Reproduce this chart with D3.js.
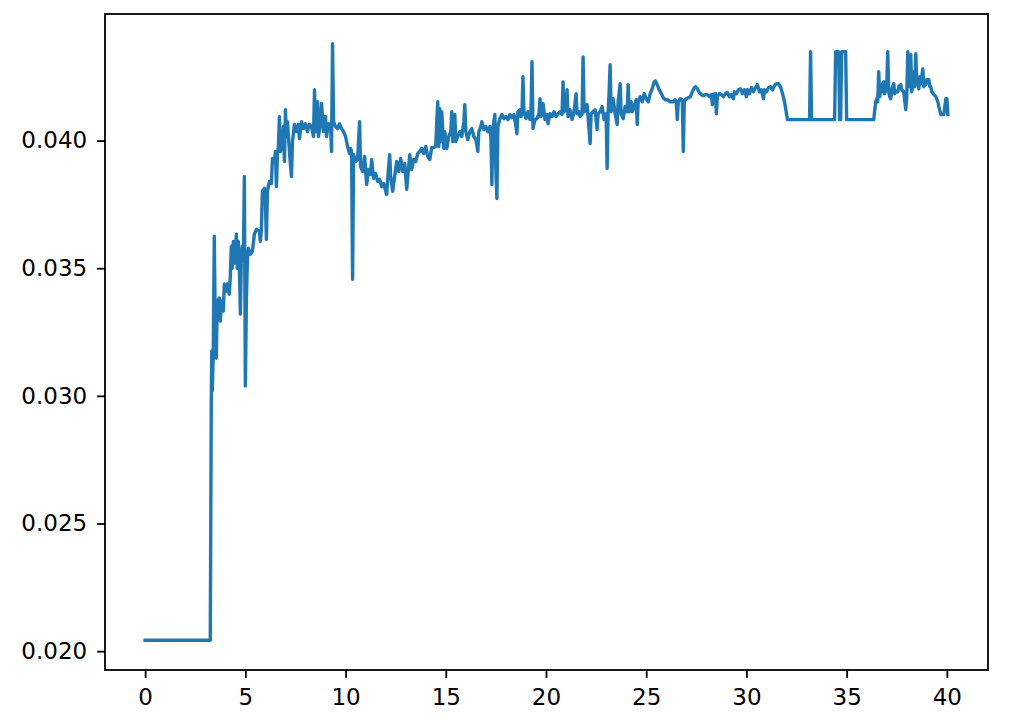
<!DOCTYPE html>
<html>
<head>
<meta charset="utf-8">
<script src="https://cdn.jsdelivr.net/npm/d3@7"></script>
<style>
  body { margin: 0; background: #fff; }
  text { font-family: "DejaVu Sans", sans-serif; }
</style>
</head>
<body>
<div id="chart"></div>
<script>
// time values (x)
const times = [
  0, 3.25, 3.30, 3.325, 3.35, 3.40, 3.45, 3.50, 3.55, 3.60, 3.70, 3.75, 3.80, 3.90, 3.95, 4.05, 4.10, 4.20,
  4.25, 4.30, 4.35, 4.40, 4.45, 4.50, 4.55, 4.60, 4.65, 4.70, 4.75, 4.80, 4.85, 4.90, 4.95, 5.00, 5.05, 5.10,
  5.15, 5.25, 5.35, 5.45, 5.55, 5.70, 5.75, 5.80, 5.85, 5.95, 6.00, 6.05, 6.10, 6.20, 6.30, 6.35, 6.45, 6.50,
  6.55, 6.60, 6.65, 6.70, 6.75, 6.85, 6.90, 6.95, 7.00, 7.05, 7.10, 7.20, 7.30, 7.35, 7.45, 7.55, 7.65, 7.70,
  7.80, 7.90, 8.00, 8.10, 8.20, 8.30, 8.40, 8.45, 8.50, 8.60, 8.65, 8.75, 8.80, 8.90, 9.00, 9.05, 9.15, 9.25,
  9.30, 9.35, 9.40, 9.50, 9.60, 9.70, 9.80, 9.90, 10.00, 10.10, 10.20, 10.25, 10.30, 10.35, 10.40, 10.50, 10.60, 10.70,
  10.75, 10.85, 10.95, 11.05, 11.15, 11.25, 11.30, 11.40, 11.50, 11.60, 11.70, 11.80, 11.90, 12.05, 12.10, 12.20, 12.25, 12.35,
  12.45, 12.55, 12.65, 12.75, 12.85, 12.95, 13.05, 13.15, 13.20, 13.30, 13.40, 13.50, 13.60, 13.70, 13.80, 13.90, 14.00, 14.10,
  14.20, 14.30, 14.40, 14.50, 14.55, 14.60, 14.65, 14.70, 14.75, 14.80, 14.90, 14.95, 15.05, 15.15, 15.25, 15.30, 15.35, 15.45,
  15.50, 15.60, 15.70, 15.80, 15.90, 15.95, 16.00, 16.10, 16.20, 16.30, 16.40, 16.50, 16.60, 16.65, 16.75, 16.80, 16.90, 17.00,
  17.10, 17.20, 17.25, 17.30, 17.35, 17.40, 17.45, 17.50, 17.55, 17.60, 17.70, 17.80, 17.90, 18.00, 18.10, 18.20, 18.30, 18.40,
  18.50, 18.55, 18.60, 18.70, 18.75, 18.80, 18.85, 18.90, 19.00, 19.10, 19.20, 19.25, 19.30, 19.35, 19.45, 19.55, 19.65, 19.70,
  19.75, 19.85, 19.95, 20.05, 20.10, 20.20, 20.30, 20.40, 20.50, 20.60, 20.70, 20.80, 20.85, 20.90, 21.00, 21.05, 21.10, 21.20,
  21.30, 21.40, 21.50, 21.55, 21.65, 21.70, 21.80, 21.85, 21.90, 22.00, 22.05, 22.10, 22.20, 22.25, 22.35, 22.45, 22.55, 22.60,
  22.70, 22.80, 22.90, 23.00, 23.05, 23.10, 23.15, 23.20, 23.25, 23.35, 23.45, 23.55, 23.60, 23.70, 23.75, 23.85, 23.95, 24.05,
  24.10, 24.15, 24.25, 24.30, 24.40, 24.50, 24.55, 24.60, 24.70, 24.80, 24.90, 25.00, 25.10, 25.20, 25.30, 25.40, 25.45, 25.55,
  25.65, 25.75, 25.85, 25.95, 26.05, 26.20, 26.35, 26.45, 26.50, 26.55, 26.60, 26.70, 26.80, 26.85, 26.90, 27.00, 27.10, 27.20,
  27.30, 27.40, 27.45, 27.55, 27.65, 27.75, 27.85, 27.95, 28.05, 28.15, 28.25, 28.30, 28.35, 28.45, 28.50, 28.55, 28.65, 28.75,
  28.85, 28.95, 29.05, 29.15, 29.25, 29.35, 29.40, 29.50, 29.60, 29.70, 29.80, 29.90, 30.00, 30.05, 30.15, 30.25, 30.35, 30.45,
  30.55, 30.65, 30.75, 30.85, 30.90, 31.00, 31.10, 31.20, 31.30, 31.40, 31.50, 31.60, 31.70, 31.80, 31.90, 32.00, 32.05, 33.15,
  33.20, 33.25, 34.40, 34.45, 34.60, 34.65, 34.70, 34.75, 34.95, 35.00, 36.35, 36.45, 36.50, 36.55, 36.60, 36.65, 36.70, 36.75,
  36.80, 36.85, 36.90, 36.95, 37.00, 37.05, 37.10, 37.15, 37.20, 37.25, 37.35, 37.40, 37.45, 37.55, 37.60, 37.70, 37.75, 37.85,
  37.95, 38.00, 38.05, 38.10, 38.15, 38.20, 38.25, 38.30, 38.35, 38.40, 38.45, 38.50, 38.55, 38.60, 38.65, 38.70, 38.80, 38.85,
  38.90, 38.95, 39.00, 39.10, 39.15, 39.20, 39.25, 39.35, 39.45, 39.55, 39.60, 39.70, 39.80, 39.85, 39.95, 40.00, 40.05
];

// series values (y)
const values = [
  0.02043, 0.02043, 0.02980, 0.03176, 0.03020, 0.03176, 0.03625, 0.03254, 0.03148, 0.03371, 0.03383, 0.03293, 0.03371, 0.03332, 0.03438, 0.03410, 0.03438, 0.03398,
  0.03469, 0.03586, 0.03500, 0.03605, 0.03520, 0.03566, 0.03633, 0.03500, 0.03605, 0.03520, 0.03320, 0.03547, 0.03586, 0.03527, 0.03859, 0.03039, 0.03371, 0.03527,
  0.03578, 0.03555, 0.03566, 0.03633, 0.03652, 0.03645, 0.03605, 0.03652, 0.03801, 0.03813, 0.03762, 0.03613, 0.03801, 0.03840, 0.03832, 0.03930, 0.03918, 0.03957,
  0.03820, 0.03945, 0.03977, 0.04094, 0.03957, 0.03996, 0.04055, 0.03918, 0.04121, 0.04016, 0.04074, 0.03957, 0.03859, 0.03996, 0.04063, 0.04035, 0.04063, 0.04008,
  0.04074, 0.04047, 0.04066, 0.04035, 0.04063, 0.04055, 0.04016, 0.04199, 0.04035, 0.04152, 0.04016, 0.04074, 0.04145, 0.04035, 0.04094, 0.04016, 0.04066, 0.04055,
  0.03957, 0.04379, 0.04074, 0.04055, 0.04047, 0.04066, 0.04047, 0.04035, 0.04016, 0.03977, 0.03949, 0.03969, 0.03957, 0.03457, 0.03945, 0.03918, 0.03926, 0.04074,
  0.03898, 0.03879, 0.03938, 0.03828, 0.03887, 0.03867, 0.03926, 0.03852, 0.03871, 0.03840, 0.03848, 0.03820, 0.03832, 0.03789, 0.03848, 0.03945, 0.03859, 0.03801,
  0.03859, 0.03918, 0.03879, 0.03930, 0.03879, 0.03910, 0.03809, 0.03898, 0.03945, 0.03887, 0.03926, 0.03918, 0.03949, 0.03957, 0.03969, 0.03949, 0.03977, 0.03938,
  0.03926, 0.03973, 0.03973, 0.03977, 0.04074, 0.04152, 0.03977, 0.04125, 0.03996, 0.04113, 0.03969, 0.04035, 0.03969, 0.04016, 0.04035, 0.04113, 0.03996, 0.04102,
  0.03996, 0.04016, 0.04035, 0.04016, 0.04074, 0.04141, 0.04035, 0.04004, 0.04035, 0.04047, 0.04016, 0.04004, 0.03957, 0.04035, 0.04055, 0.04074, 0.04043, 0.04055,
  0.04035, 0.04055, 0.04016, 0.03828, 0.04043, 0.04074, 0.04102, 0.03879, 0.03773, 0.04055, 0.04086, 0.04102, 0.04086, 0.04094, 0.04082, 0.04102, 0.04090, 0.04102,
  0.04055, 0.04027, 0.04113, 0.04121, 0.04094, 0.04105, 0.04250, 0.04113, 0.04086, 0.04113, 0.04082, 0.04102, 0.04309, 0.04047, 0.04082, 0.04086, 0.04105, 0.04164,
  0.04094, 0.04145, 0.04082, 0.04102, 0.04066, 0.04105, 0.04094, 0.04113, 0.04094, 0.04105, 0.04113, 0.04102, 0.04230, 0.04113, 0.04125, 0.04199, 0.04094, 0.04121,
  0.04082, 0.04113, 0.04184, 0.04105, 0.04113, 0.04094, 0.04105, 0.04328, 0.04113, 0.04121, 0.04141, 0.04094, 0.03988, 0.04105, 0.04113, 0.04121, 0.04043, 0.04105,
  0.04113, 0.04133, 0.04082, 0.04105, 0.03891, 0.04113, 0.04191, 0.04297, 0.04113, 0.04164, 0.04105, 0.04063, 0.04152, 0.04223, 0.04105, 0.04086, 0.04133, 0.04113,
  0.04219, 0.04113, 0.04152, 0.04113, 0.04133, 0.04160, 0.04063, 0.04152, 0.04172, 0.04152, 0.04184, 0.04164, 0.04152, 0.04184, 0.04203, 0.04230, 0.04234, 0.04219,
  0.04199, 0.04184, 0.04168, 0.04160, 0.04160, 0.04152, 0.04152, 0.04160, 0.04152, 0.04082, 0.04152, 0.04164, 0.04160, 0.03957, 0.04156, 0.04164, 0.04168, 0.04172,
  0.04191, 0.04207, 0.04211, 0.04203, 0.04188, 0.04180, 0.04176, 0.04180, 0.04180, 0.04172, 0.04180, 0.04141, 0.04180, 0.04184, 0.04105, 0.04172, 0.04184, 0.04180,
  0.04172, 0.04184, 0.04188, 0.04172, 0.04180, 0.04164, 0.04191, 0.04184, 0.04199, 0.04203, 0.04184, 0.04199, 0.04172, 0.04199, 0.04184, 0.04207, 0.04191, 0.04207,
  0.04219, 0.04191, 0.04199, 0.04164, 0.04199, 0.04191, 0.04207, 0.04211, 0.04199, 0.04215, 0.04223, 0.04223, 0.04211, 0.04184, 0.04152, 0.04105, 0.04082, 0.04082,
  0.04348, 0.04082, 0.04082, 0.04348, 0.04348, 0.04082, 0.04082, 0.04348, 0.04348, 0.04082, 0.04082, 0.04152, 0.04164, 0.04152, 0.04270, 0.04172, 0.04203, 0.04191,
  0.04223, 0.04230, 0.04184, 0.04199, 0.04211, 0.04348, 0.04191, 0.04172, 0.04164, 0.04199, 0.04223, 0.04184, 0.04191, 0.04191, 0.04211, 0.04219, 0.04199, 0.04191,
  0.04121, 0.04172, 0.04348, 0.04309, 0.04211, 0.04336, 0.04191, 0.04219, 0.04270, 0.04211, 0.04340, 0.04230, 0.04238, 0.04203, 0.04250, 0.04223, 0.04281, 0.04211,
  0.04230, 0.04219, 0.04238, 0.04238, 0.04211, 0.04211, 0.04191, 0.04180, 0.04172, 0.04152, 0.04133, 0.04102, 0.04102, 0.04102, 0.04164, 0.04164, 0.04102
];

const xTicks = [0, 5, 10, 15, 20, 25, 30, 35, 40];
const yTicks = [0.020, 0.025, 0.030, 0.035, 0.040];

const svgW = 1024, svgH = 722;
// plot box like matplotlib axes
const margin = { top: 14, right: 36, bottom: 52, left: 105 };

const chart = d3.select('#chart').append('svg')
  .attr('width', svgW)
  .attr('height', svgH)
  .style('background', '#fff');

const data = times.map((t, i) => ({ t, v: values[i] }));

// matplotlib style 5% padding on both axes
const [x0, x1] = d3.extent(times);
const [y0, y1] = d3.extent(values);
const xPad = (x1 - x0) * 0.05, yPad = (y1 - y0) * 0.05;

const x = d3.scaleLinear()
  .domain([x0 - xPad, x1 + xPad])
  .range([margin.left, svgW - margin.right]);
const y = d3.scaleLinear()
  .domain([y0 - yPad, y1 + yPad])
  .range([svgH - margin.bottom, margin.top]);

// the line
chart.append('path')
  .datum(data)
  .attr('fill', 'none')
  .attr('stroke', '#1f77b4')
  .attr('stroke-width', 3.4)
  .attr('stroke-linejoin', 'round')
  .attr('stroke-linecap', 'square')
  .attr('d', d3.line().x(d => x(d.t)).y(d => y(d.v)));

// axes
const xAxis = chart.append('g')
  .attr('transform', `translate(0,${svgH - margin.bottom})`)
  .call(d3.axisBottom(x).tickValues(xTicks).tickFormat(d3.format('d'))
    .tickSize(7.8).tickPadding(11));
const yAxis = chart.append('g')
  .attr('transform', `translate(${margin.left},0)`)
  .call(d3.axisLeft(y).tickValues(yTicks).tickFormat(d3.format('.3f'))
    .tickSize(7.8).tickPadding(10));

[xAxis, yAxis].forEach(g => {
  g.select('.domain').remove();
  g.selectAll('line').attr('stroke', '#000').attr('stroke-width', 1.8);
  g.selectAll('text').attr('fill', '#000').style('font-size', '23px');
});

// frame round the plot
chart.append('rect')
  .attr('x', margin.left)
  .attr('y', margin.top)
  .attr('width', svgW - margin.left - margin.right)
  .attr('height', svgH - margin.top - margin.bottom)
  .attr('fill', 'none')
  .attr('stroke', '#000')
  .attr('stroke-width', 1.8);
</script>
</body>
</html>
